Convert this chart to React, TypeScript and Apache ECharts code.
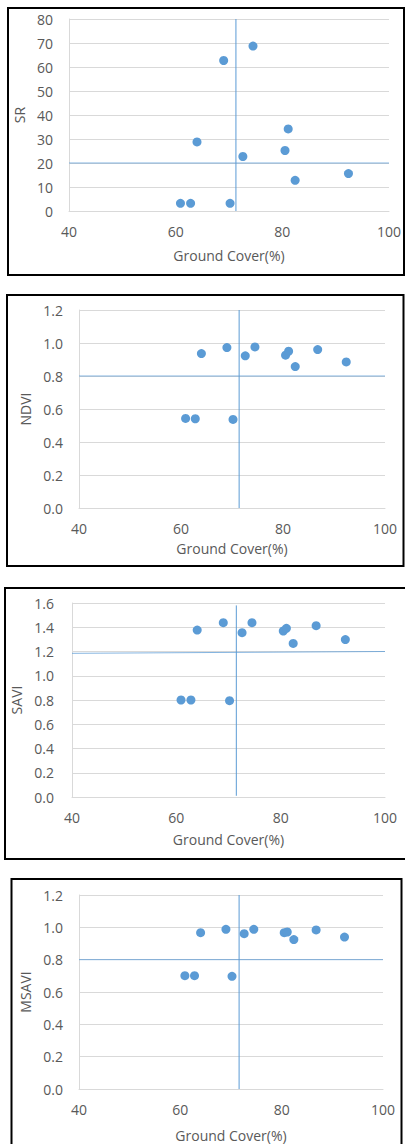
import React, { useEffect, useRef } from "react";
import * as echarts from "echarts";

// Ground cover (%) for the sampled plots (shared by all panels)
const groundCover = [60.9, 62.8, 70.2, 64.0, 69.0, 74.5, 72.6, 80.5, 81.1, 82.4, 86.8, 92.4];
// Vegetation indices (null = not shown)
const srValues = [3.2, 3.2, 3.2, 28.8, 62.7, 68.7, 22.7, 25.2, 34.2, 12.8, null, 15.6];
const ndviValues = [0.543, 0.541, 0.537, 0.936, 0.972, 0.976, 0.922, 0.926, 0.95, 0.857, 0.96, 0.885];
const saviValues = [0.8, 0.8, 0.794, 1.377, 1.438, 1.438, 1.355, 1.369, 1.391, 1.267, 1.413, 1.298];
const msaviValues = [0.701, 0.701, 0.697, 0.967, 0.988, 0.988, 0.961, 0.967, 0.971, 0.924, 0.984, 0.94];

const indexNames = ["SR", "NDVI", "SAVI", "MSAVI"];
const yMaxes = [80, 1.2, 1.6, 1.2];
const yIntervals = [10, 0.2, 0.2, 0.2];
const yDecimals = [0, 1, 1, 1];
// threshold cross lines: vertical ground cover, horizontal index value
const coverThresholds = [71.3, 71.4, 71.5, 71.6];
const coverLineBottom = [0, 0, 0.01, 0];
const coverLineTop = [80, 1.2, 1.58, 1.2];
const indexThresholdsStart = [20, 0.8, 1.185, 0.8];
const indexThresholdsEnd = [20, 0.8, 1.2, 0.8];
const xTicks = { min: 40, max: 100, interval: 20 };
const xTitle = "Ground Cover(%)";

// layout (page pixels)
const grids = [
  { left: 69, top: 19, width: 320, height: 192 },
  { left: 79, top: 310, width: 306, height: 198 },
  { left: 72, top: 603, width: 313, height: 194 },
  { left: 79, top: 895, width: 304, height: 194 },
];
const borders = [
  { x: 8, y: 8, width: 396, height: 267 },
  { x: 7, y: 295, width: 396.5, height: 271 },
  { x: 5, y: 588, width: 402, height: 271 },
  { x: 11.5, y: 879, width: 390, height: 272 },
];
const yLabelMargins = [16, 16, 18, 16];
const xNameGaps = [37, 33, 35, 39];
const yNameGaps = [35, 38, 40, 38];

const COLOR = "#5B9BD5";
const LINE = "#5B9BD5";
const GRIDC = "#D9D9D9";
const TEXT = "#595959";
const FONT = "'Open Sans', sans-serif";

export default function App() {
  const ref = useRef<HTMLDivElement>(null);
  useEffect(() => {
    if (!ref.current) return;
    const chart = echarts.init(ref.current, undefined, { renderer: "svg" });
    const values = [srValues, ndviValues, saviValues, msaviValues];
    const series: any[] = [];
    values.forEach((vals, i) => {
      series.push({
        type: "line",
        xAxisIndex: i,
        yAxisIndex: i,
        showSymbol: false,
        symbol: "none",
        silent: true,
        z: 1,
        lineStyle: { color: LINE, width: 1 },
        data: [
          [coverThresholds[i], coverLineBottom[i]],
          [coverThresholds[i], coverLineTop[i]],
        ],
      });
      series.push({
        type: "line",
        xAxisIndex: i,
        yAxisIndex: i,
        showSymbol: false,
        symbol: "none",
        silent: true,
        z: 1,
        lineStyle: { color: LINE, width: 1, opacity: 0.75 },
        data: [
          [xTicks.min, indexThresholdsStart[i]],
          [xTicks.max, indexThresholdsEnd[i]],
        ],
      });
      series.push({
        type: "scatter",
        xAxisIndex: i,
        yAxisIndex: i,
        symbolSize: 9,
        z: 3,
        itemStyle: { color: COLOR, opacity: 1 },
        data: groundCover
          .map((x, k) => [x, vals[k]])
          .filter((p) => p[1] !== null),
      });
    });
    const option: any = {
      animation: false,
      backgroundColor: "#ffffff",
      textStyle: { fontFamily: FONT },
      grid: grids.map((g) => ({ ...g, containLabel: false })),
      xAxis: grids.map((_, i) => ({
        gridIndex: i,
        type: "value",
        min: xTicks.min,
        max: xTicks.max,
        interval: xTicks.interval,
        name: xTitle,
        nameLocation: "middle",
        nameGap: xNameGaps[i],
        nameTextStyle: { color: TEXT, fontSize: 14, fontFamily: FONT },
        axisLine: { show: true, lineStyle: { color: GRIDC, width: 1 } },
        axisTick: { show: false },
        splitLine: { show: false },
        axisLabel: { color: TEXT, fontSize: 14, fontFamily: FONT, margin: 13 },
      })),
      yAxis: grids.map((_, i) => ({
        gridIndex: i,
        type: "value",
        min: 0,
        max: yMaxes[i],
        interval: yIntervals[i],
        name: indexNames[i],
        nameLocation: "middle",
        nameRotate: 90,
        nameGap: yNameGaps[i],
        nameTextStyle: { color: TEXT, fontSize: 14, fontFamily: FONT },
        axisLine: { show: true, lineStyle: { color: GRIDC, width: 1 } },
        axisTick: { show: false },
        splitLine: { show: true, lineStyle: { color: GRIDC, width: 1 } },
        axisLabel: {
          color: TEXT,
          fontSize: 14,
          fontFamily: FONT,
          margin: yLabelMargins[i],
          formatter: (v: number) => v.toFixed(yDecimals[i]),
        },
      })),
      series,
      graphic: borders.map((b) => ({
        type: "rect",
        shape: { x: b.x, y: b.y, width: b.width, height: b.height },
        style: { fill: "none", stroke: "#000", lineWidth: 2 },
        silent: true,
        z: 100,
      })),
    };
    chart.setOption(option);
    return () => chart.dispose();
  }, []);
  return (
    <div
      ref={ref}
      style={{ position: "absolute", left: 0, top: 0, width: 405, height: 1144 }}
    />
  );
}
